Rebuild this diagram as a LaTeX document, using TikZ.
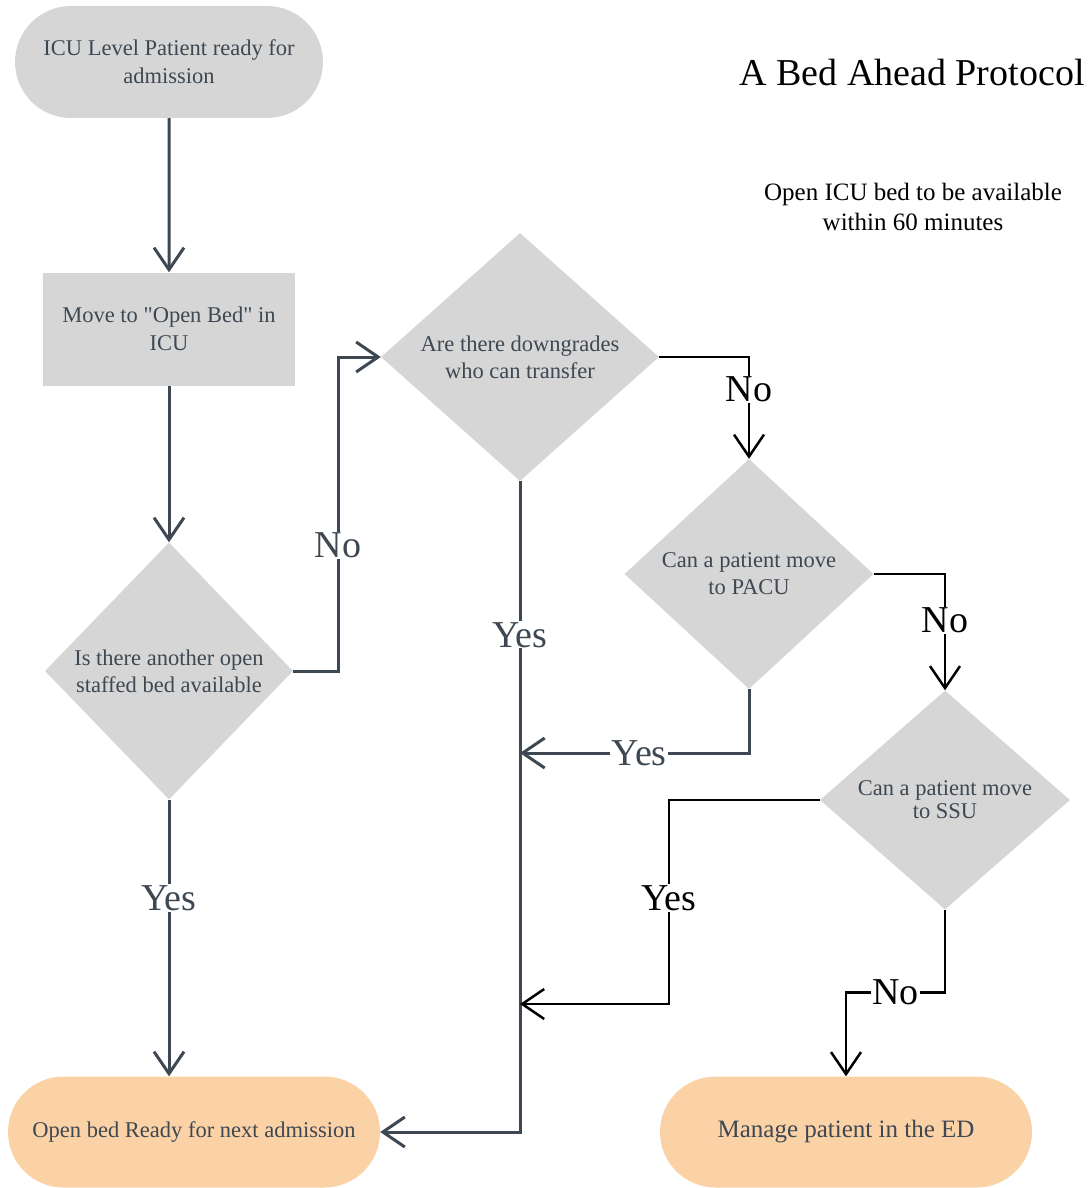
\documentclass[tikz,border=0pt]{standalone}
\usepackage{fontspec}
\setmainfont{Liberation Serif}
\usetikzlibrary{arrows.meta, shapes.geometric, shapes.misc}
\definecolor{slate}{HTML}{3E4852}
\definecolor{boxgray}{HTML}{D6D6D6}
\definecolor{peach}{HTML}{FBD1A6}

\begin{document}
\begin{tikzpicture}[x=1pt,y=-1pt,>={Straight Barb[length=22pt,width=30pt]},
  terminal/.style={rounded rectangle, fill=boxgray, minimum width=308pt, minimum height=112pt,
    inner sep=0pt, align=center, text=slate, font=\fontsize{22.5}{28}\selectfont},
  process/.style={rectangle, fill=boxgray, minimum width=252pt, minimum height=113pt,
    inner sep=0pt, align=center, text=slate, font=\fontsize{22.5}{28}\selectfont},
  decision/.style={diamond, aspect=1.1, fill=boxgray, inner sep=-15pt, align=center,
    text=slate, font=\fontsize{22.5}{27}\selectfont},
  endstate/.style={terminal, fill=peach, minimum width=372pt, minimum height=111pt},
  flow/.style={->, draw=slate, line width=3pt},
  flowb/.style={->, draw=black, line width=2.5pt},
  lbl/.style={fill=white, inner sep=1pt, text=slate, font=\fontsize{38}{44}\selectfont},
  lblb/.style={lbl, text=black}]

\useasboundingbox (0,0) rectangle (1089,1188);

% define the boxes
  \node[terminal] (start) at (169,62) {ICU Level Patient ready for\\admission};
  \node[process] (move) at (169,329) {Move to \textquotedbl Open Bed\textquotedbl{} in\\ICU};
  \node[decision, minimum width=248pt, minimum height=257pt] (other) at (169,671)
{Is there another open\\staffed bed available};
  \node[decision, minimum width=278pt, minimum height=248pt] (down) at (520,357)
{Are there downgrades\\who can transfer};
  \node[decision, minimum width=249pt, minimum height=230pt] (pacu) at (749,574)
{Can a patient move\\to PACU};
  \node[decision, minimum width=250pt, minimum height=219pt, font=\fontsize{22.5}{23}\selectfont] (ssu) at (945,800)
{Can a patient move\\to SSU};
  \node[endstate] (ready) at (194,1132) {Open bed Ready for next admission};
  \node[endstate, font=\fontsize{25}{30}\selectfont] (manage) at (846,1132) {Manage patient in the ED};

% title
  \node[font=\fontsize{38}{45}\selectfont] (title) at (912,73) {A Bed Ahead Protocol};
  \node[align=center, font=\fontsize{25}{30}\selectfont] (goal) at (913,207)
{Open ICU bed to be available\\within 60 minutes};

% junctions on the Yes line
  \coordinate (j1) at (520,753);
  \coordinate (j2) at (520,1004);

% define the links
  \draw[flow] (start) -- (move);
  \draw[flow] (move) -- (other);
  \draw[flow] (other.south) -- node[lbl, pos=0.355] {Yes} (other.south |- ready.north);
  \draw[flow] (other.east) -- ++(45,0) |- node[lbl, pos=0.2] {No} (down.west);
  \draw[flow] (down.south) |- node[lbl, pos=0.118] {Yes} (ready.east);
  \draw[flowb] (down.east) -| node[lblb, pos=0.66] {No} (pacu.north);
  \draw[flow] (pacu.south) |- node[lbl, pos=0.74] {Yes} (j1);
  \draw[flowb] (pacu.east) -| node[lblb, pos=0.70] {No} (ssu.north);
  \draw[flowb] (ssu.west) -- ++(-151,0) |- node[lblb, pos=0.24] {Yes} (j2);
  \draw[flowb] (ssu.south) -- ++(0,83) -| node[lblb, pos=0.25] {No} (manage.north);

\end{tikzpicture}
\end{document}
